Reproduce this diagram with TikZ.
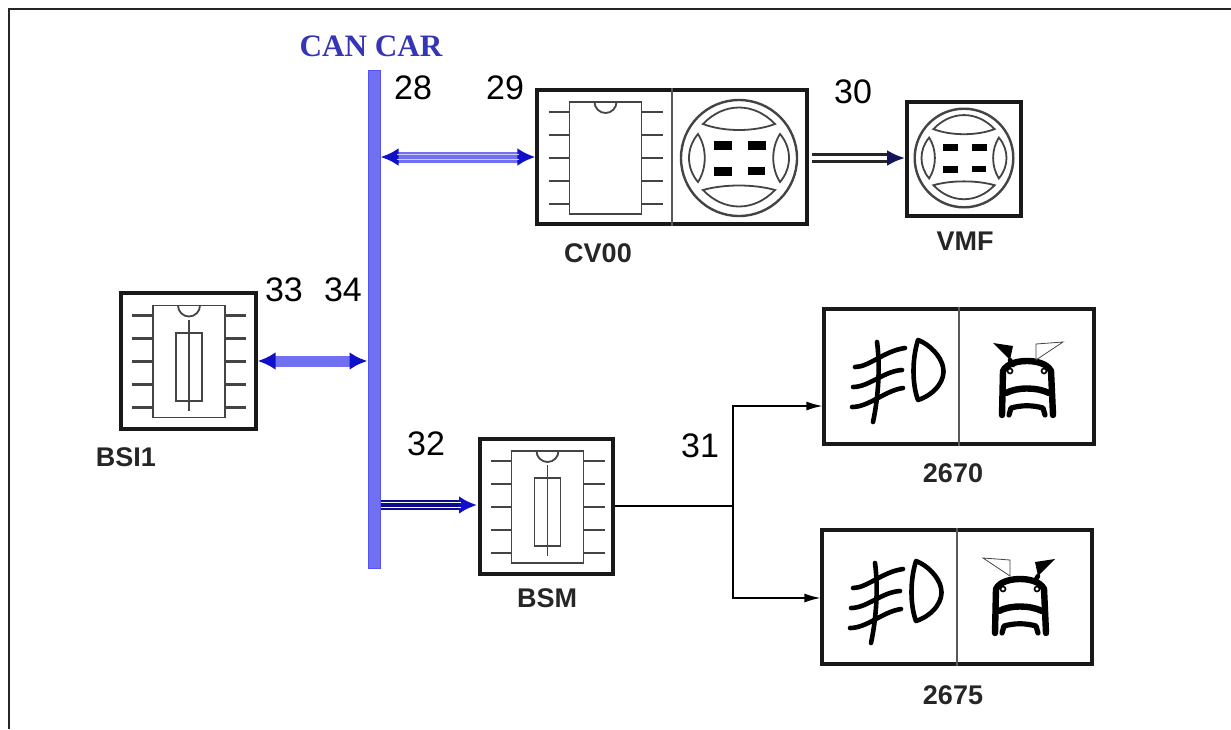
\documentclass[tikz,border=0pt]{standalone}
\usepackage{fontspec}
\setmainfont{Liberation Sans}
\newfontfamily\canfont{Liberation Serif}
\definecolor{canblue}{HTML}{3535B5}
\definecolor{busblue}{HTML}{7070F0}
\definecolor{tipblue}{HTML}{1010C8}
\definecolor{tipnavy}{HTML}{14145A}
\definecolor{icongray}{HTML}{444444}
\usetikzlibrary{arrows.meta, positioning}

\begin{document}
\begin{tikzpicture}[x=0.5pt, y=-0.5pt,
  unit/.style={draw=black!90, line width=1.6pt, fill=white, inner sep=0pt, rectangle},
  num/.style={font=\fontsize{17}{19}\selectfont, inner sep=0pt},
  tag/.style={font=\fontsize{13.5}{15}\selectfont\bfseries, text=black!85, inner sep=0pt},
  sep/.style={draw=black!65, line width=0.9pt},
  thin ink/.style={draw=icongray, line width=0.9pt},
  pin/.style={draw=icongray, line width=1.1pt},
  busline/.style={draw=busblue!75!blue, fill=busblue, line width=0.5pt, inner sep=0pt},
  blocktip/.style={Latex[length=9pt,width=9pt,color=tipblue]},
  stripe/.style 2 args={postaction={draw=#1, line width=0.6pt, shorten <=#2, shorten >=8pt, -, transform canvas={yshift=1.1pt}},
    postaction={draw=#1, line width=0.6pt, shorten <=#2, shorten >=8pt, -, transform canvas={yshift=-1.1pt}}},
  bulk/.style={draw=busblue, line width=5.5pt, {Latex[length=9pt,width=9pt,color=tipblue]}-{Latex[length=9pt,width=9pt,color=tipblue]}},
  trunkboth/.style={bulk, stripe={blue!20!white}{8pt}},
  trunk/.style={draw=tipblue!70!black, line width=5pt, -{Latex[length=9pt,width=9pt,color=tipblue]}, stripe={white}{0pt}},
  pair/.style={draw=black!85, double=white, double distance=1.8pt, line width=1.4pt, -{Latex[length=9pt,width=8pt,color=tipnavy]}},
  wire/.style={draw=black, line width=0.7pt},
  feed/.style={wire, -{Latex[length=8pt,width=4.5pt]}},
  foot/.style={draw=black, line width=2.3pt, line join=round, line cap=round},
  chip/.pic={
    \draw[thin ink, fill=white] (-36,-56) rectangle (36,56);
    \draw[thin ink] (-11,-56) arc[start angle=180, end angle=0, radius=11];
    \foreach \y in {-46,-23,0,23,46} {
      \draw[pin] (-57,\y) -- (-36,\y);
      \draw[pin] (36,\y) -- (57,\y);
    }
  },
  fuse/.pic={
    \draw[thin ink] (-13,-28) rectangle (13,40);
    \draw[thin ink] (0,-41) -- (0,50);
  },
  wheel/.pic={
    \draw[thin ink, line width=1.2pt] (0,0) circle[radius=58];
    \draw[thin ink] (-36,-34) .. controls (-15,-56) and (15,-56) .. (36,-34) .. controls (15,-26) and (-15,-26) .. (-36,-34) -- cycle;
    \draw[thin ink] (-36,32) .. controls (-15,54) and (15,54) .. (36,32) .. controls (15,26) and (-15,26) .. (-36,32) -- cycle;
    \draw[thin ink] (-41,-24) .. controls (-53,-10) and (-53,10) .. (-41,24) .. controls (-32,10) and (-32,-10) .. (-41,-24) -- cycle;
    \draw[thin ink] (41,-24) .. controls (53,-10) and (53,10) .. (41,24) .. controls (32,10) and (32,-10) .. (41,-24) -- cycle;
    \fill[black] (-25,-17) rectangle (-7,-8);
    \fill[black] (9,-17) rectangle (27,-8);
    \fill[black] (-25,9) rectangle (-7,18);
    \fill[black] (9,9) rectangle (26,17);
  },
  foglamp/.pic={
    \draw[foot] (94,31) .. controls (88,50) and (88,75) .. (94,91) .. controls (112,85) and (122,70) .. (119,58) .. controls (117,47) and (105,35) .. (94,31) -- cycle;
    \draw[foot] (53,33) .. controls (56,55) and (55,85) .. (49,113);
    \draw[foot] (31,58) .. controls (45,58) and (60,42) .. (81,39);
    \draw[foot] (29,78) .. controls (45,78) and (60,62) .. (78,61);
    \draw[foot] (28,98) .. controls (45,98) and (60,82) .. (79,79);
  },
  carfront/.pic={
    \draw[foot, line width=3.2pt] (-25,106) -- (-24,62) .. controls (-20,54) and (-8,52) .. (0,52) .. controls (8,52) and (20,54) .. (24,62) -- (26,106);
    \draw[foot, line width=3.2pt] (-21,84) .. controls (-10,78) and (10,78) .. (22,84);
    \draw[foot, line width=2.6pt] (-18,106) -- (-16,99) .. controls (-5,96) and (5,96) .. (16,99) -- (18,106);
    \draw[draw=black, line width=0.8pt, fill=white] (-17,62) circle[radius=2.5];
    \draw[draw=black, line width=0.8pt, fill=white] (17,62) circle[radius=2.5];
  },
  coneblack/.pic={
    \fill[black] (0,0) -- (20,3) -- (17,17) -- cycle;
    \draw[foot] (17,17) -- (20,22);
  },
  conehollow/.pic={
    \draw[thin ink, line width=0.4pt] (0,0) -- (-27,2) -- (-27,18) -- cycle;
  },
]
  \useasboundingbox (0,0) rectangle (1231,729);
  % page frame
  \draw[draw=black!85, line width=1pt] (8.5,729) -- (8.5,9) -- (1231,9);

  % bus
  \node[busline, minimum width=6pt, minimum height=249pt] (can) at (374,319) {};
  \node[font=\canfont\fontsize{15.6}{17}\selectfont\bfseries, text=canblue, inner sep=0pt] (cantag) at (371,46) {CAN CAR};

  % units
  \node[unit, minimum width=135pt, minimum height=67pt] (cv00) at (672,157) {};
  \node[unit, minimum width=57pt, minimum height=57pt] (vmf) at (964,159) {};
  \node[unit, minimum width=67.5pt, minimum height=68pt] (bsi) at (188.5,361) {};
  \node[unit, minimum width=66.5pt, minimum height=67.5pt] (bsm) at (546.5,506.5) {};
  \node[unit, minimum width=135pt, minimum height=67.5pt] (lampa) at (959,376.5) {};
  \node[unit, minimum width=135pt, minimum height=67pt] (lampb) at (957,597) {};

  % insides
  \path (605.5,158) pic {chip};
  \draw[sep] (cv00.north) -- (cv00.south);
  \path (739,158) pic {wheel};
  \path (964,158) pic[scale=0.85] {wheel};
  \path (189,361.5) pic {chip};
  \path (189,361) pic {fuse};
  \path (547.5,507) pic {chip};
  \path (547.5,506) pic {fuse};
  \draw[sep] (lampa.north) -- (lampa.south);
  \path (824,309) pic {foglamp};
  \path (1027,309) pic {carfront};
  \path (993,343) pic {coneblack};
  \path (1063,342) pic {conehollow};
  \draw[sep] (lampb.north) -- (lampb.south);
  \path (822,530) pic {foglamp};
  \path (1020,527) pic {carfront};
  \path (983,558) pic[xscale=-1] {conehollow};
  \path (1055,559) pic[xscale=-1] {coneblack};

  % connectors
  \draw[trunkboth] (can.east |- cv00.west) -- (cv00.west);
  \draw[bulk] (bsi.east) -- (bsi.east -| can.west);
  \coordinate (bsmin) at (477,505);
  \draw[trunk] (can.east |- bsmin) -- (bsmin);
  \coordinate (vmfin) at (905,158);
  \draw[pair] (cv00.east |- vmfin) ++(3,0) coordinate (vmfout) -- (vmfin);
  \coordinate (fork) at (733,506);
  \draw[wire] (bsm.east |- fork) -- (fork);
  \draw[feed] (fork) |- (lampa.west |- 0,406);
  \draw[feed] (fork) |- (lampb.west |- 0,598);

  % numbers
  \node[num] (n28) at (413,88) {28};
  \node[num] (n29) at (505,88) {29};
  \node[num] (n30) at (853,92) {30};
  \node[num] (n33) at (284,290) {33};
  \node[num] (n34) at (343,290) {34};
  \node[num] (n32) at (426,444) {32};
  \node[num] (n31) at (700,446) {31};

  % labels
  \node[tag] (lcv00) at (598,253) {CV00};
  \node[tag] (lvmf) at (965,241) {VMF};
  \node[tag] (lbsi) at (126,457) {BSI1};
  \node[tag] (lbsm) at (547,598) {BSM};
  \node[tag] (l2670) at (953,473) {2670};
  \node[tag] (l2675) at (953,695) {2675};
\end{tikzpicture}
\end{document}
